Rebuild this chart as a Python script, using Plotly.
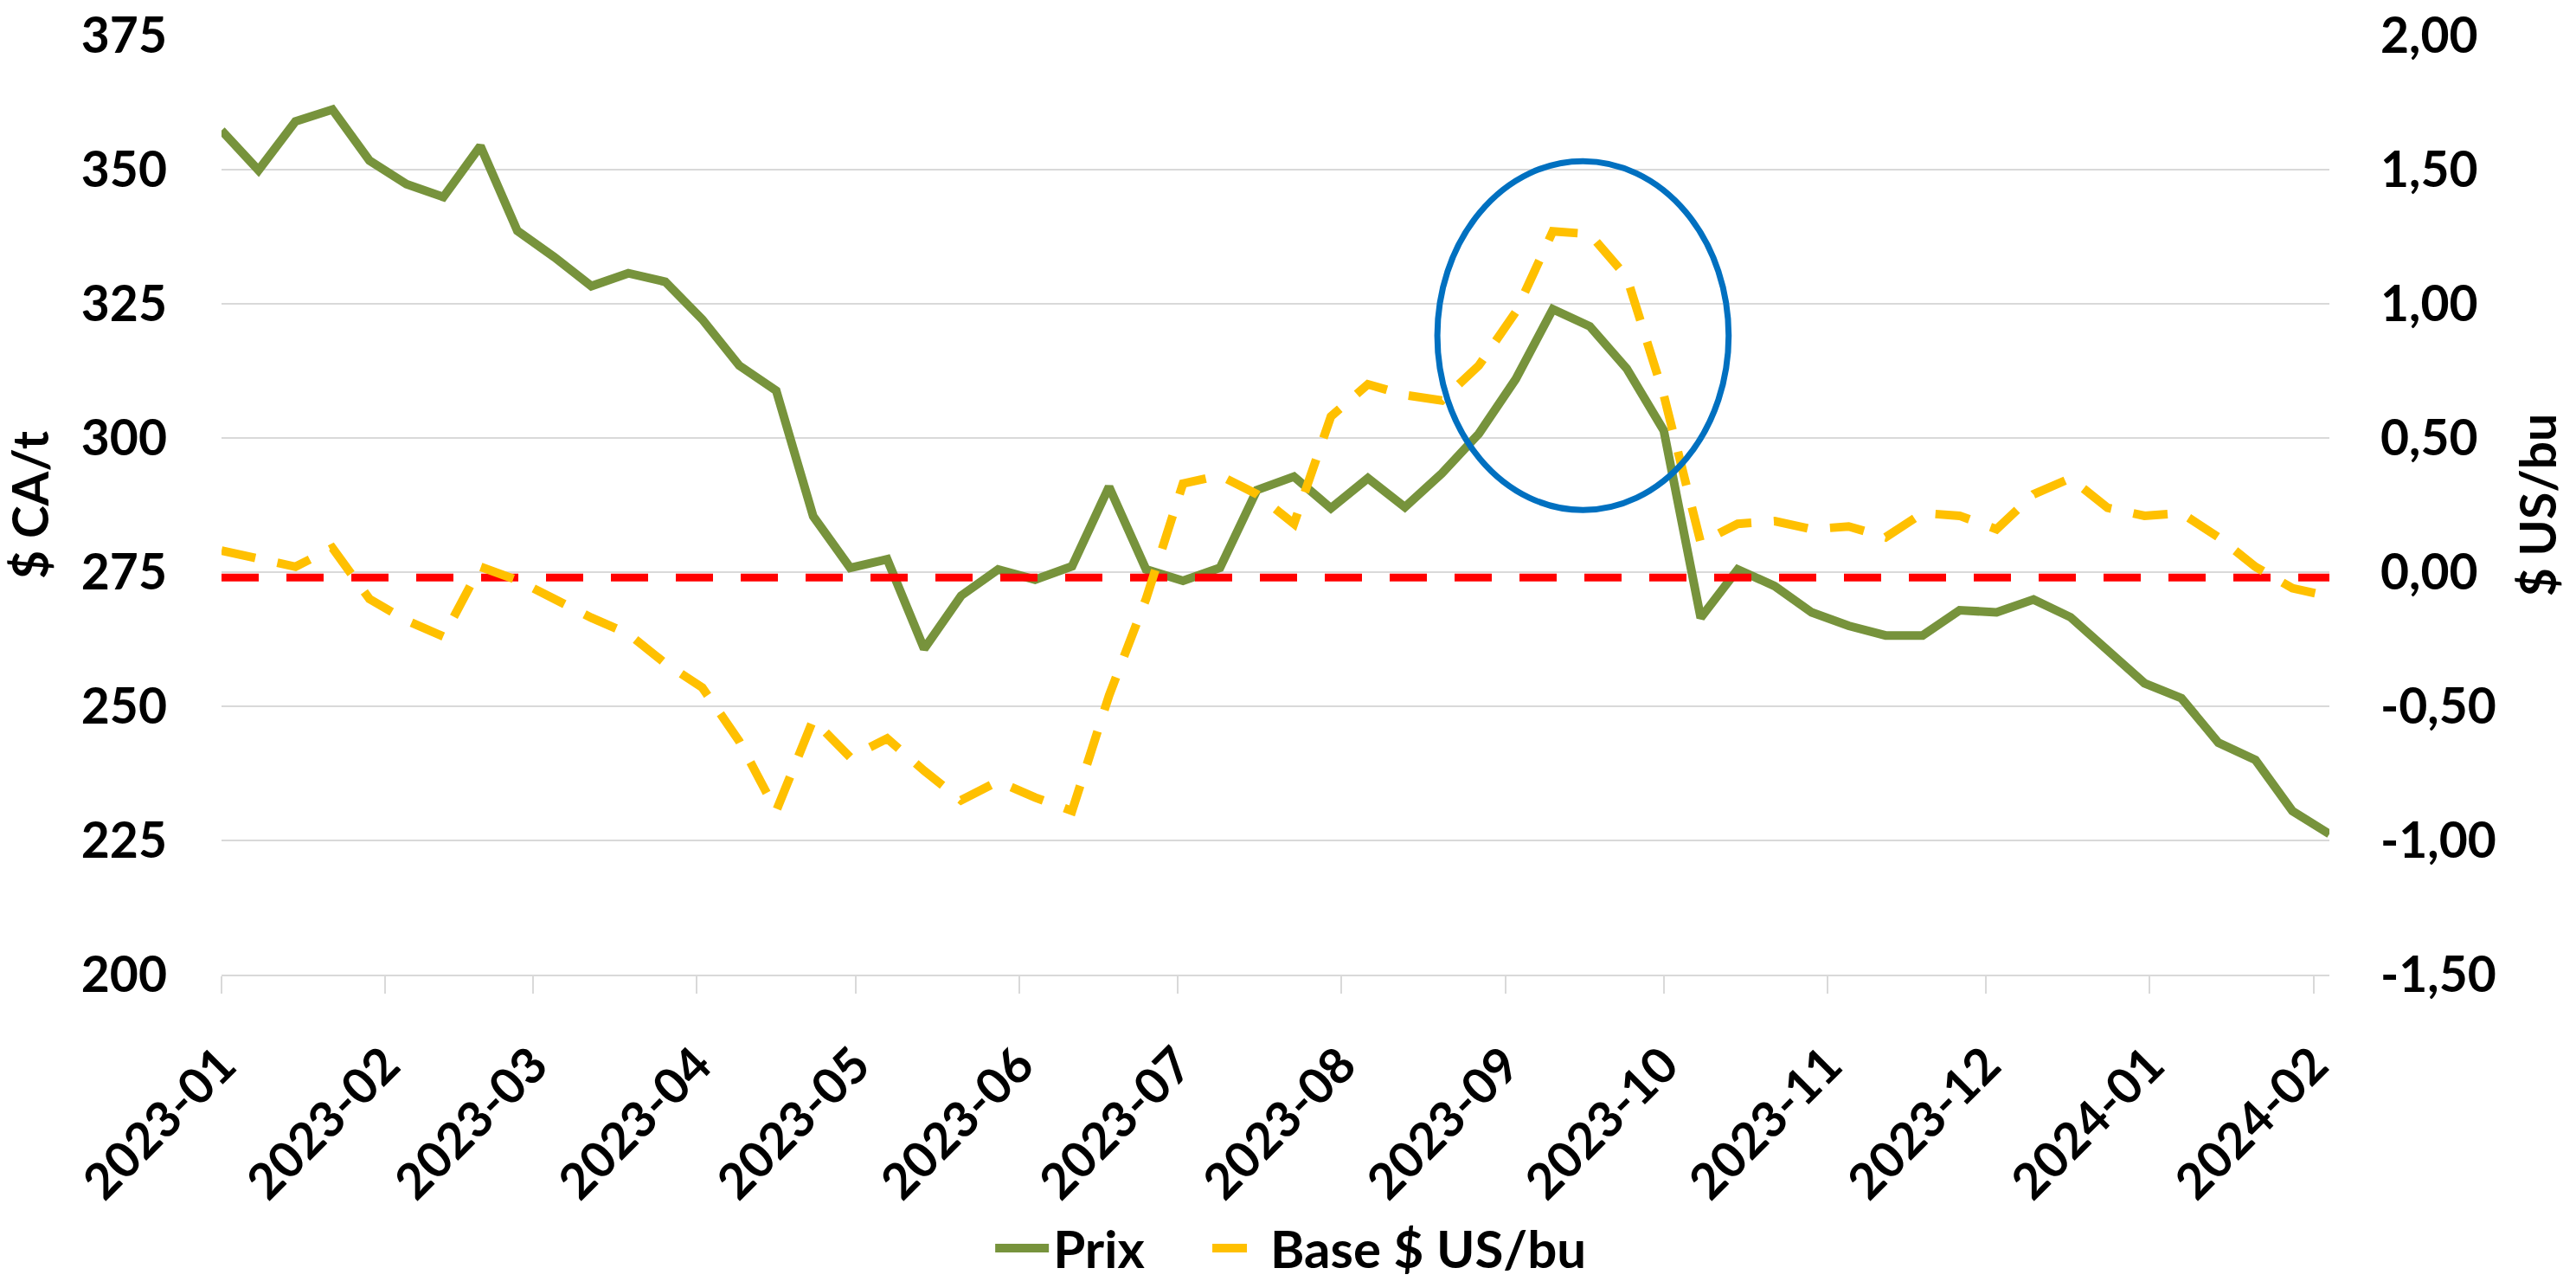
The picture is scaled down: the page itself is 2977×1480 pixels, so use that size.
import pandas as pd
import plotly.graph_objects as go

# ---- data ----
dates = pd.date_range("2023-01-01", periods=58, freq="7D")

prix = [357.3, 349.9, 359.0, 361.2, 351.7, 347.3, 344.9, 354.4, 338.6, 333.7,
        328.3, 330.7, 329.1, 322.1, 313.5, 308.8, 285.4, 275.8, 277.4, 260.7,
        270.6, 275.5, 273.6, 276.1, 290.9, 275.5, 273.4, 275.8, 290.3, 292.8,
        286.9, 292.5, 287.1, 293.4, 300.8, 311.0, 324.0, 320.8, 312.9, 301.4,
        266.5, 275.5, 272.4, 267.5, 265.0, 263.2, 263.2, 267.9, 267.5, 269.9,
        266.6, 260.5, 254.3, 251.5, 243.2, 240.0, 230.5, 226.2]

base = [0.08, 0.05, 0.02, 0.09, -0.10, -0.18, -0.24, 0.02, -0.03, -0.10,
        -0.17, -0.23, -0.34, -0.43, -0.63, -0.89, -0.55, -0.69, -0.62, -0.74,
        -0.85, -0.78, -0.84, -0.89, -0.46, -0.10, 0.33, 0.36, 0.29, 0.18,
        0.58, 0.70, 0.66, 0.64, 0.77, 0.97, 1.27, 1.26, 1.10, 0.66,
        0.11, 0.18, 0.19, 0.16, 0.17, 0.13, 0.22, 0.21, 0.16, 0.29,
        0.35, 0.24, 0.21, 0.22, 0.13, 0.02, -0.06, -0.09]

reference_level = -0.02  # dashed red line, right axis

x_tickvals = pd.date_range("2023-01-01", "2024-02-01", freq="MS")
x_ticktext = ["2023-01", "2023-02", "2023-03", "2023-04", "2023-05", "2023-06",
              "2023-07", "2023-08", "2023-09", "2023-10", "2023-11", "2023-12",
              "2024-01", "2024-02"]

left_ticks = [200, 225, 250, 275, 300, 325, 350, 375]
right_tickvals = [-1.5, -1.0, -0.5, 0.0, 0.5, 1.0, 1.5, 2.0]
right_ticktext = ["-1,50", "-1,00", "-0,50", "0,00", "0,50", "1,00", "1,50", "2,00"]

# ---- style ----
FONT = "Lato"
FS = 57
GREEN = "#77933C"
GOLD = "#FFC000"
RED = "#FF0000"
BLUE = "#0070C0"
GRID = "#D9D9D9"

fig = go.Figure()

fig.add_trace(go.Scatter(
    x=[dates[0], dates[-1]], y=[reference_level, reference_level],
    mode="lines", yaxis="y2", showlegend=False, hoverinfo="skip",
    line=dict(color=RED, width=9, dash="43px,32px")))

fig.add_trace(go.Scatter(
    x=dates, y=prix, name="Prix", mode="lines", legend="legend",
    line=dict(color=GREEN, width=10)))

fig.add_trace(go.Scatter(
    x=dates, y=base, name="Base $ US/bu", mode="lines", yaxis="y2",
    legend="legend2",
    line=dict(color=GOLD, width=10, dash="40px,26px")))

fig.add_shape(type="circle", xref="paper", yref="paper",
              x0=0.5768, x1=0.7150, y0=0.4947, y1=0.8662,
              line=dict(color=BLUE, width=7))

legend_common = dict(orientation="h", xanchor="left", yref="container",
                     y=0.0257, yanchor="middle", itemwidth=62,
                     bgcolor="rgba(0,0,0,0)",
                     font=dict(size=60, family=FONT, weight="bold"))

fig.update_layout(
    width=2977, height=1480, autosize=False,
    margin=dict(l=256, r=285, t=41, b=354, autoexpand=False),
    paper_bgcolor="white", plot_bgcolor="white",
    font=dict(family=FONT, size=FS, color="black", weight="bold"),
    showlegend=True,
    legend=dict(x=0.365, **legend_common),
    legend2=dict(x=0.468, **legend_common),
    xaxis=dict(
        type="date", range=[dates[0], dates[-1]],
        tickvals=x_tickvals, ticktext=x_ticktext, tickangle=-45,
        ticks="outside", ticklen=20, tickcolor=GRID, tickwidth=2,
        showline=True, linecolor=GRID, linewidth=2,
        showgrid=False, zeroline=False, automargin=False,
        ticklabelstandoff=26, ticklabeloverflow="allow",
        tickfont=dict(size=FS, family=FONT, weight="bold")),
    yaxis=dict(
        range=[200, 375], tickvals=left_ticks,
        showgrid=True, gridcolor=GRID, gridwidth=2, zeroline=False,
        ticks="", automargin=False, ticklabelstandoff=62,
        ticklabeloverflow="allow",
        tickfont=dict(size=FS, family=FONT, weight="bold"),
        title=dict(text="$ CA/t", standoff=30,
                   font=dict(size=FS, family=FONT, weight="bold"))),
    yaxis2=dict(
        range=[-1.5, 2.0], tickvals=right_tickvals, ticktext=right_ticktext,
        overlaying="y", side="right", showgrid=False, zeroline=False,
        ticks="", automargin=False, ticklabelstandoff=58,
        ticklabeloverflow="allow",
        tickfont=dict(size=FS, family=FONT, weight="bold"),
        title=dict(text="$ US/bu", standoff=30,
                   font=dict(size=FS, family=FONT, weight="bold"))),
)

fig.write_html("out.html",
               config={"displayModeBar": False},
               post_script="document.body.style.margin='0px';"
                           "document.documentElement.style.overflow='hidden';")
